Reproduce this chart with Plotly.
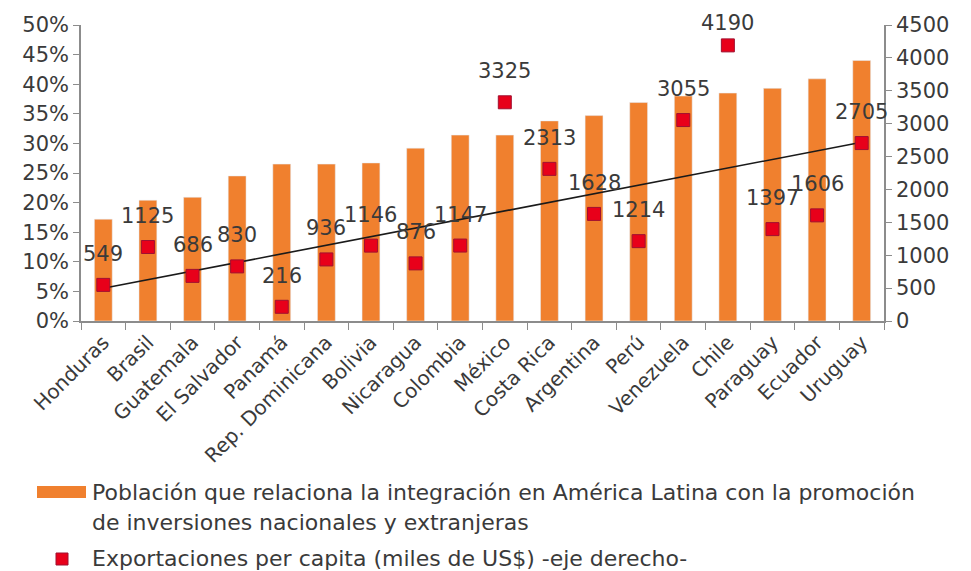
import numpy as np
import plotly.graph_objects as go

# Countries on the x axis
paises = ['Honduras', 'Brasil', 'Guatemala', 'El Salvador', 'Panamá',
          'Rep. Dominicana', 'Bolivia', 'Nicaragua', 'Colombia', 'México',
          'Costa Rica', 'Argentina', 'Perú', 'Venezuela', 'Chile',
          'Paraguay', 'Ecuador', 'Uruguay']

# Share of population (left axis)
poblacion = [0.172, 0.204, 0.209, 0.245, 0.265, 0.265, 0.267, 0.292, 0.314,
             0.314, 0.338, 0.347, 0.369, 0.380, 0.385, 0.393, 0.409, 0.440]

# Exports per capita (right axis)
exportaciones = [549, 1125, 686, 830, 216, 936, 1146, 876, 1147, 3325,
                 2313, 1628, 1214, 3055, 4190, 1397, 1606, 2705]

leyenda_barras = ['Población que relaciona la integración en América Latina con la promoción',
                  'de inversiones nacionales y extranjeras']
leyenda_puntos = 'Exportaciones per capita (miles de US$) -eje derecho-'

FONT = 'DejaVu Sans'
TXT = '#3a3a3a'
AXIS = '#8c8c8c'
ORANGE = '#f0802e'
RED = '#e8001a'

# the page body has an 8px margin, so the figure is sized to fit the window
OFF = 8
W, H = 971 - OFF, 571 - OFF
L, T = 81 - OFF, 25 - OFF
R, B = W - (884 - OFF), H - (321 - OFF)
PW, PH = W - L - R, H - T - B
Y2_MAX = 4500


def px_x(x):
    # window pixel -> paper coordinate
    return (x - OFF - L) / PW


def px_y(y):
    return (H - B - (y - OFF)) / PH


# Linear trend of exports
idx = np.arange(len(paises))
slope, intercept = np.polyfit(idx, exportaciones, 1)
tendencia = slope * idx + intercept

fig = go.Figure()

fig.add_trace(go.Bar(
    x=paises,
    y=poblacion,
    name='Población',
    marker=dict(color=ORANGE),
    yaxis='y',
))

fig.add_trace(go.Scatter(
    x=paises,
    y=tendencia,
    mode='lines',
    line=dict(color='#1a1a1a', width=1.6),
    yaxis='y2',
    hoverinfo='skip',
))

fig.add_trace(go.Scatter(
    x=paises,
    y=exportaciones,
    mode='markers',
    name='Exportaciones',
    marker=dict(symbol='square', size=13, color=RED,
                line=dict(color='#a01030', width=1)),
    yaxis='y2',
))

# value labels above the markers, kept inside the top of the chart
for p, v in zip(paises, exportaciones):
    marker_top = T + PH * (1 - v / Y2_MAX)
    shift = min(31, marker_top - (T - 2))
    fig.add_annotation(
        x=p, y=v, xref='x', yref='y2',
        text=str(v), showarrow=False, yshift=shift,
        font=dict(family=FONT, size=21, color=TXT),
    )

# legend drawn by hand below the chart
fig.add_shape(type='rect', xref='paper', yref='paper',
              x0=px_x(37), x1=px_x(86), y0=px_y(498), y1=px_y(486),
              fillcolor=ORANGE, line_width=0)
fig.add_shape(type='rect', xref='paper', yref='paper',
              x0=px_x(56), x1=px_x(68), y0=px_y(565), y1=px_y(553),
              fillcolor=RED, line=dict(color='#a01030', width=1))
for linea, ypx in zip(leyenda_barras, [492, 522]):
    fig.add_annotation(xref='paper', yref='paper', x=px_x(90), y=px_y(ypx),
                       xanchor='left', yanchor='middle', align='left',
                       text=linea, showarrow=False,
                       font=dict(family=FONT, size=22, color=TXT))
fig.add_annotation(xref='paper', yref='paper', x=px_x(90), y=px_y(558),
                   xanchor='left', yanchor='middle', align='left',
                   text=leyenda_puntos, showarrow=False,
                   font=dict(family=FONT, size=22, color=TXT))

fig.update_layout(
    width=W,
    height=H,
    margin=dict(l=L, r=R, t=T, b=B, autoexpand=False),
    plot_bgcolor='white',
    paper_bgcolor='white',
    font=dict(family=FONT, color=TXT, size=19),
    bargap=0.6,
    showlegend=False,
    xaxis=dict(
        type='category',
        range=[-0.5, len(paises) - 0.5],
        tickangle=-45,
        tickson='boundaries',
        ticks='outside', ticklen=7, tickcolor=AXIS,
        showline=True, linecolor=AXIS, linewidth=1.5,
        showgrid=False,
        tickfont=dict(size=20, color=TXT),
    ),
    yaxis=dict(
        range=[0, 0.5], dtick=0.05, tickformat='.0%',
        ticks='outside', ticklen=6, tickcolor=AXIS,
        showline=True, linecolor=AXIS, linewidth=1.5,
        showgrid=False, zeroline=False,
        tickfont=dict(size=21, color=TXT),
    ),
    yaxis2=dict(
        range=[0, Y2_MAX], dtick=500,
        overlaying='y', side='right',
        ticks='outside', ticklen=6, tickcolor=AXIS,
        showline=True, linecolor=AXIS, linewidth=1.5,
        showgrid=False, zeroline=False,
        tickfont=dict(size=21, color=TXT),
    ),
)

fig.write_html('out.html')
